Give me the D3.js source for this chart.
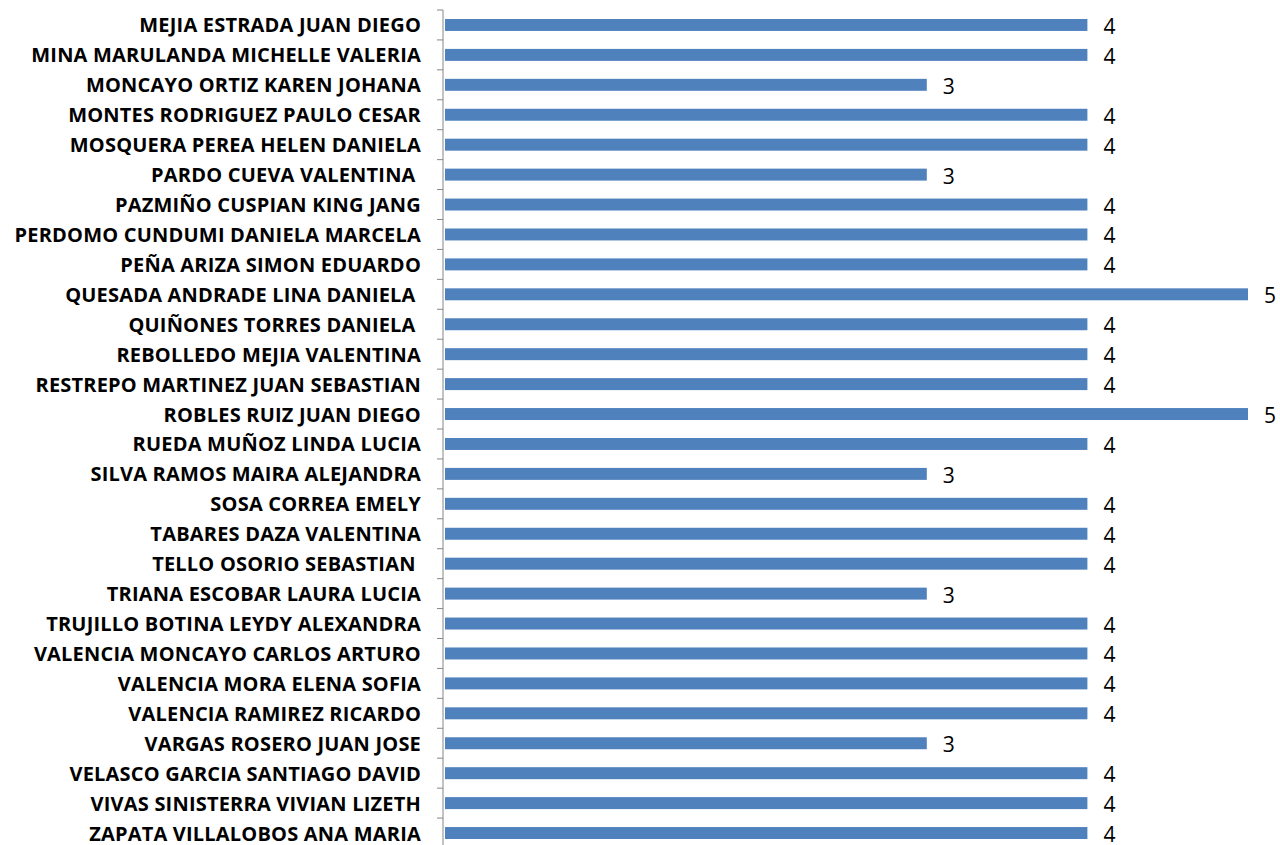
<!DOCTYPE html>
<html lang="es">
<head>
    <meta charset="utf-8">
    <title>Bar chart</title>
    <script src="https://d3js.org/d3.v7.min.js"></script>
    <style>
        body { margin: 0; background: #fff; }
        text { white-space: pre; }
    </style>
</head>
<body>
    <svg width="1280" height="845"></svg>

    <script>
        // Data
        var names = [
            "MEJIA ESTRADA JUAN DIEGO",
            "MINA MARULANDA MICHELLE VALERIA",
            "MONCAYO ORTIZ KAREN JOHANA",
            "MONTES RODRIGUEZ PAULO CESAR",
            "MOSQUERA PEREA HELEN DANIELA",
            "PARDO CUEVA VALENTINA ",
            "PAZMIÑO CUSPIAN KING JANG",
            "PERDOMO CUNDUMI DANIELA MARCELA",
            "PEÑA ARIZA SIMON EDUARDO",
            "QUESADA ANDRADE LINA DANIELA ",
            "QUIÑONES TORRES DANIELA ",
            "REBOLLEDO MEJIA VALENTINA",
            "RESTREPO MARTINEZ JUAN SEBASTIAN",
            "ROBLES RUIZ JUAN DIEGO",
            "RUEDA MUÑOZ LINDA LUCIA",
            "SILVA RAMOS MAIRA ALEJANDRA",
            "SOSA CORREA EMELY",
            "TABARES DAZA VALENTINA",
            "TELLO OSORIO SEBASTIAN ",
            "TRIANA ESCOBAR LAURA LUCIA",
            "TRUJILLO BOTINA LEYDY ALEXANDRA",
            "VALENCIA MONCAYO CARLOS ARTURO",
            "VALENCIA MORA ELENA SOFIA",
            "VALENCIA RAMIREZ RICARDO",
            "VARGAS ROSERO JUAN JOSE",
            "VELASCO GARCIA SANTIAGO DAVID",
            "VIVAS SINISTERRA VIVIAN LIZETH",
            "ZAPATA VILLALOBOS ANA MARIA"
        ];
        var values = [4, 4, 3, 4, 4, 3, 4, 4, 4, 5, 4, 4, 4, 5, 4, 3, 4, 4, 4, 3, 4, 4, 4, 4, 3, 4, 4, 4];

        var svg = d3.select("svg");

        // Scales
        var x = d3.scaleLinear()
            .domain([0, 5])
            .range([445, 1248]);

        var y = d3.scaleBand()
            .domain(names)
            .range([10, 848])
            .paddingInner(0.6)
            .paddingOuter(0.3);

        // Bars
        svg.append("g")
            .selectAll("rect")
            .data(values)
            .enter()
            .append("rect")
            .attr("x", x(0))
            .attr("y", function(d, i) { return y(names[i]); })
            .attr("width", function(d) { return x(d) - x(0); })
            .attr("height", y.bandwidth())
            .attr("fill", "#4f81bd");

        // Value labels
        svg.append("g")
            .selectAll("text")
            .data(values)
            .enter()
            .append("text")
            .attr("x", function(d) { return x(d) + 16; })
            .attr("y", function(d, i) { return y(names[i]) + y.bandwidth() / 2 + 1; })
            .attr("dominant-baseline", "central")
            .style("font-family", "'Open Sans', sans-serif")
            .style("font-size", "21px")
            .style("fill", "#000")
            .text(function(d) { return d; });

        // Category axis (ticks between categories)
        var axisX = 443;
        var g = svg.append("g");
        g.append("line")
            .attr("x1", axisX).attr("x2", axisX)
            .attr("y1", 10).attr("y2", 848)
            .attr("stroke", "#868686")
            .attr("stroke-width", 1);
        g.selectAll("line.tick")
            .data(d3.range(names.length + 1))
            .enter()
            .append("line")
            .attr("class", "tick")
            .attr("x1", axisX - 6).attr("x2", axisX)
            .attr("y1", function(i) { return 10 + i * (838 / names.length); })
            .attr("y2", function(i) { return 10 + i * (838 / names.length); })
            .attr("stroke", "#868686")
            .attr("stroke-width", 1);

        // Category labels
        g.selectAll("text")
            .data(names)
            .enter()
            .append("text")
            .attr("x", 421)
            .attr("y", function(d) { return y(d) + y.bandwidth() / 2; })
            .attr("text-anchor", "end")
            .attr("dominant-baseline", "central")
            .style("font-family", "'Open Sans', sans-serif")
            .style("font-weight", "bold")
            .style("font-size", "20px")
            .style("letter-spacing", "0.2px")
            .style("fill", "#000")
            .text(function(d) { return d; });
    </script>
</body>
</html>
